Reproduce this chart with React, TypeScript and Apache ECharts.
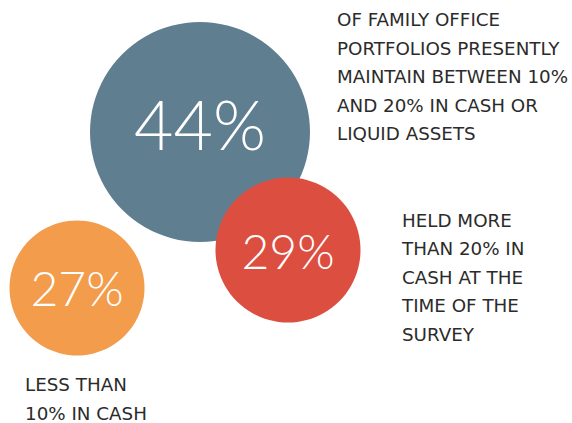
import React, { useEffect, useRef } from "react";
import * as echarts from "echarts";

const shares = [44, 29, 27];
const labels = ["44%", "29%", "27%"];
const colors = ["#5f7e90", "#dc4e40", "#f29c4c"];
const centersX = [200, 288, 77];
const centersY = [132, 250, 288];
const descriptions = [
  ["OF FAMILY OFFICE", "PORTFOLIOS PRESENTLY", "MAINTAIN BETWEEN 10%", "AND 20% IN CASH OR", "LIQUID ASSETS"],
  ["HELD MORE", "THAN 20% IN", "CASH AT THE", "TIME OF THE", "SURVEY"],
  ["LESS THAN", "10% IN CASH"],
];
const descX = [337, 402, 25];
const descY = [19.5, 220, 384.5];

export default function App() {
  const ref = useRef<HTMLDivElement>(null);
  useEffect(() => {
    if (!ref.current) return;
    const chart = echarts.init(ref.current, null, { renderer: "svg" });
    const fontSizes = [68, 48, 48];
    const offsets = [[0, -9], [0, 0], [0, -1]];
    const pitch = 28.5;
    const texts: any[] = [];
    descriptions.forEach((lines, i) => {
      lines.forEach((line, j) => {
        texts.push({
          type: "text",
          x: descX[i],
          y: descY[i] + j * pitch,
          style: {
            text: line,
            fill: "#2b2b2b",
            font: "18.3px 'DejaVu Sans', sans-serif",
            lineHeight: 16,
            textVerticalAlign: "middle",
          },
        });
      });
    });
    chart.setOption({
      animation: false,
      grid: { left: 0, right: 0, top: 0, bottom: 0 },
      xAxis: { type: "value", min: 0, max: 572, show: false },
      yAxis: { type: "value", min: 0, max: 423, inverse: true, show: false },
      series: [
        {
          type: "scatter",
          silent: true,
          data: shares.map((v, i) => ({
            value: [centersX[i], centersY[i], v],
            symbolSize: v * 5,
            itemStyle: { color: colors[i], opacity: 1 },
            label: {
              show: true,
              position: "inside",
              offset: offsets[i],
              formatter: labels[i],
              color: "#ffffff",
              fontSize: fontSizes[i],
              fontFamily: "Lato, Inter, sans-serif",
              fontWeight: 300,
            },
          })),
        },
      ],
      graphic: texts,
    });
    return () => chart.dispose();
  }, []);
  return (
    <div
      ref={ref}
      style={{ position: "fixed", left: 0, top: 0, width: 572, height: 423, background: "#ffffff" }}
    />
  );
}
